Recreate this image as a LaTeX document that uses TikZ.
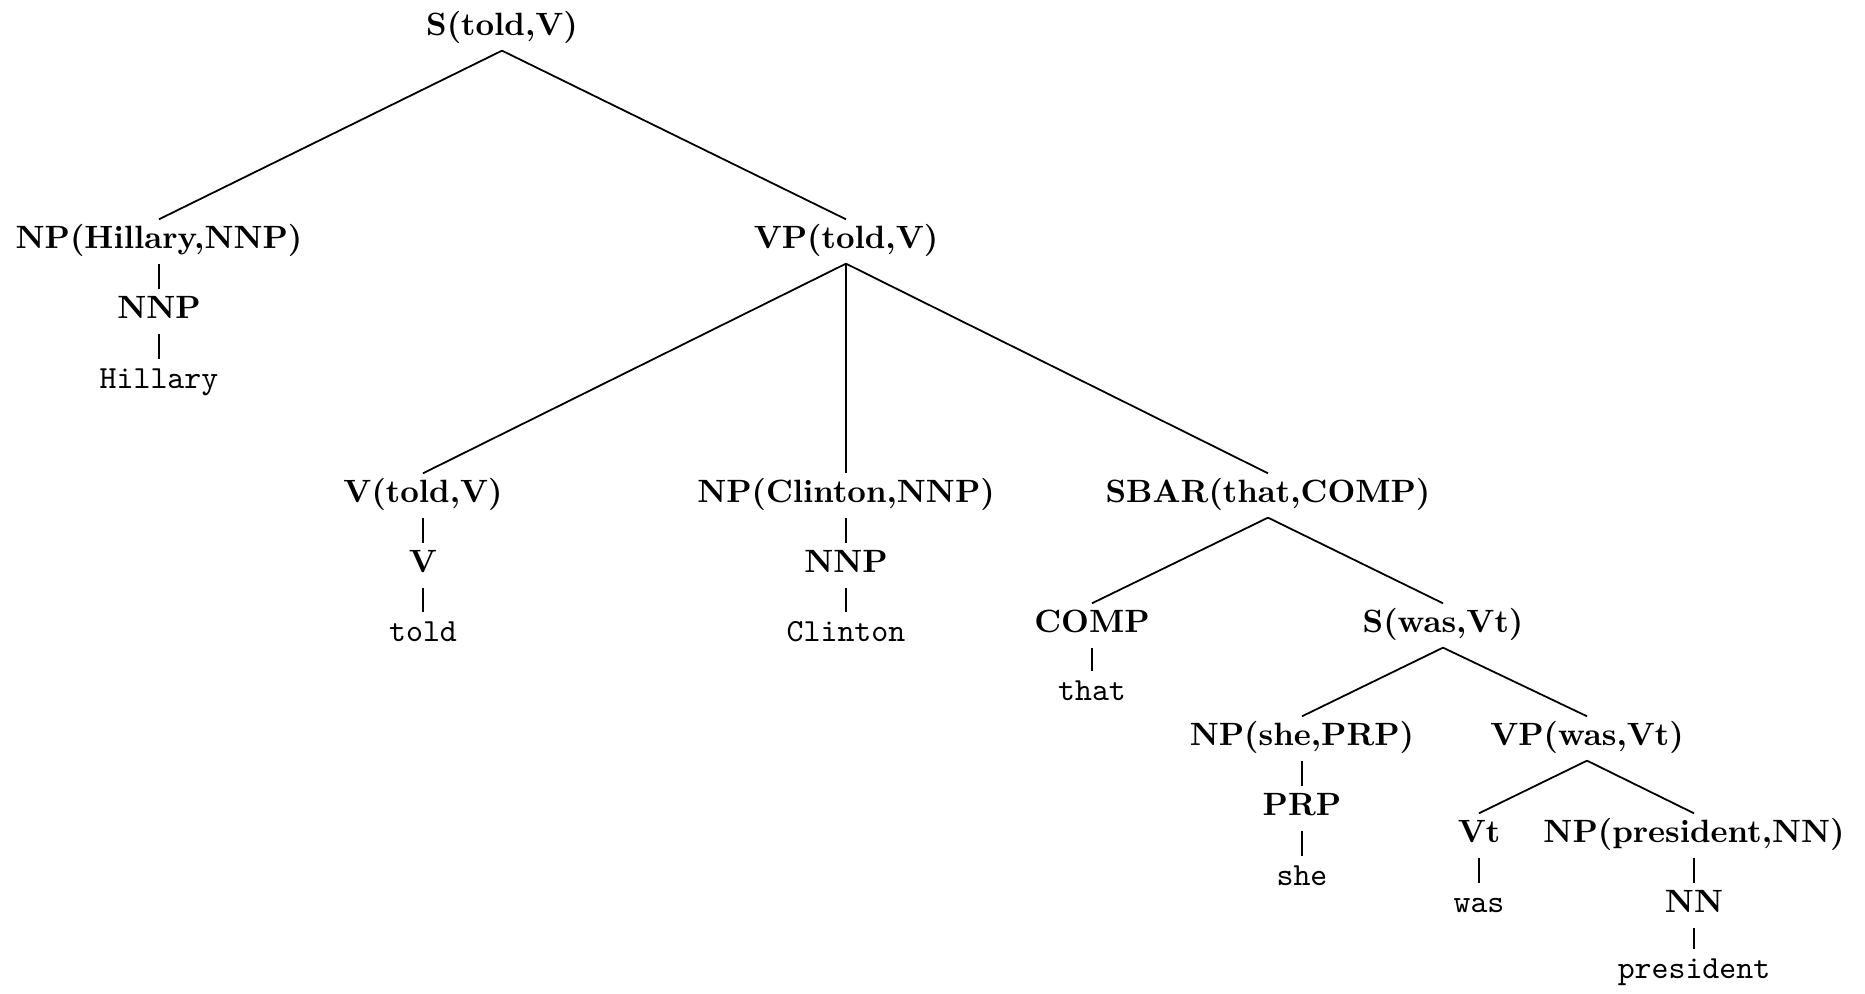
\documentclass[tikz,border=0pt]{standalone}
\begin{document}
\begin{tikzpicture}[x=0.31pt,y=-0.31pt,
  lab/.style={anchor=base,inner sep=0pt,font=\bfseries,text height=8.7pt,text depth=4.65pt},
  leaf/.style={anchor=base,inner sep=0pt,font=\ttfamily,text height=8.7pt,text depth=4.65pt},
  edge/.style={line width=0.55pt}]
\useasboundingbox (0,0) rectangle (1865,993);

% labels (placed by baseline)
\node[lab] (s1) at (502,35) {S(told,V)};
\node[lab] (np1) at (159,248) {NP(Hillary,NNP)};
\node[lab] (nnp1) at (159,318) {NNP};
\node[leaf] (hillary) at (159,388) {Hillary};
\node[lab] (vp1) at (846,248) {VP(told,V)};
\node[lab] (v1) at (423,502) {V(told,V)};
\node[lab] (v2) at (423,572) {V};
\node[leaf] (told) at (423,641) {told};
\node[lab] (np2) at (846,502) {NP(Clinton,NNP)};
\node[lab] (nnp2) at (846,572) {NNP};
\node[leaf] (clinton) at (846,641) {Clinton};
\node[lab] (sbar) at (1268,502) {SBAR(that,COMP)};
\node[lab] (comp) at (1092,632) {COMP};
\node[leaf] (that) at (1092,700) {that};
\node[lab] (s2) at (1443,632) {S(was,Vt)};
\node[lab] (np3) at (1302,745) {NP(she,PRP)};
\node[lab] (prp) at (1302,815) {PRP};
\node[leaf] (she) at (1302,885) {she};
\node[lab] (vp2) at (1587,745) {VP(was,Vt)};
\node[lab] (vt) at (1479,842) {Vt};
\node[leaf] (was) at (1479,912) {was};
\node[lab] (np4) at (1694,842) {NP(president,NN)};
\node[lab] (nn) at (1694,912) {NN};
\node[leaf] (president) at (1694,978) {president};

% tree edges
\draw[edge] (s1.south) -- (np1.north);
\draw[edge] (s1.south) -- (vp1.north);
\draw[edge] (np1.south) -- (nnp1.north);
\draw[edge] (nnp1.south) -- (hillary.north);
\draw[edge] (vp1.south) -- (v1.north);
\draw[edge] (vp1.south) -- (np2.north);
\draw[edge] (vp1.south) -- (sbar.north);
\draw[edge] (v1.south) -- (v2.north);
\draw[edge] (v2.south) -- (told.north);
\draw[edge] (np2.south) -- (nnp2.north);
\draw[edge] (nnp2.south) -- (clinton.north);
\draw[edge] (sbar.south) -- (comp.north);
\draw[edge] (sbar.south) -- (s2.north);
\draw[edge] (comp.south) -- (that.north);
\draw[edge] (s2.south) -- (np3.north);
\draw[edge] (s2.south) -- (vp2.north);
\draw[edge] (np3.south) -- (prp.north);
\draw[edge] (prp.south) -- (she.north);
\draw[edge] (vp2.south) -- (vt.north);
\draw[edge] (vp2.south) -- (np4.north);
\draw[edge] (vt.south) -- (was.north);
\draw[edge] (np4.south) -- (nn.north);
\draw[edge] (nn.south) -- (president.north);
\end{tikzpicture}
\end{document}
